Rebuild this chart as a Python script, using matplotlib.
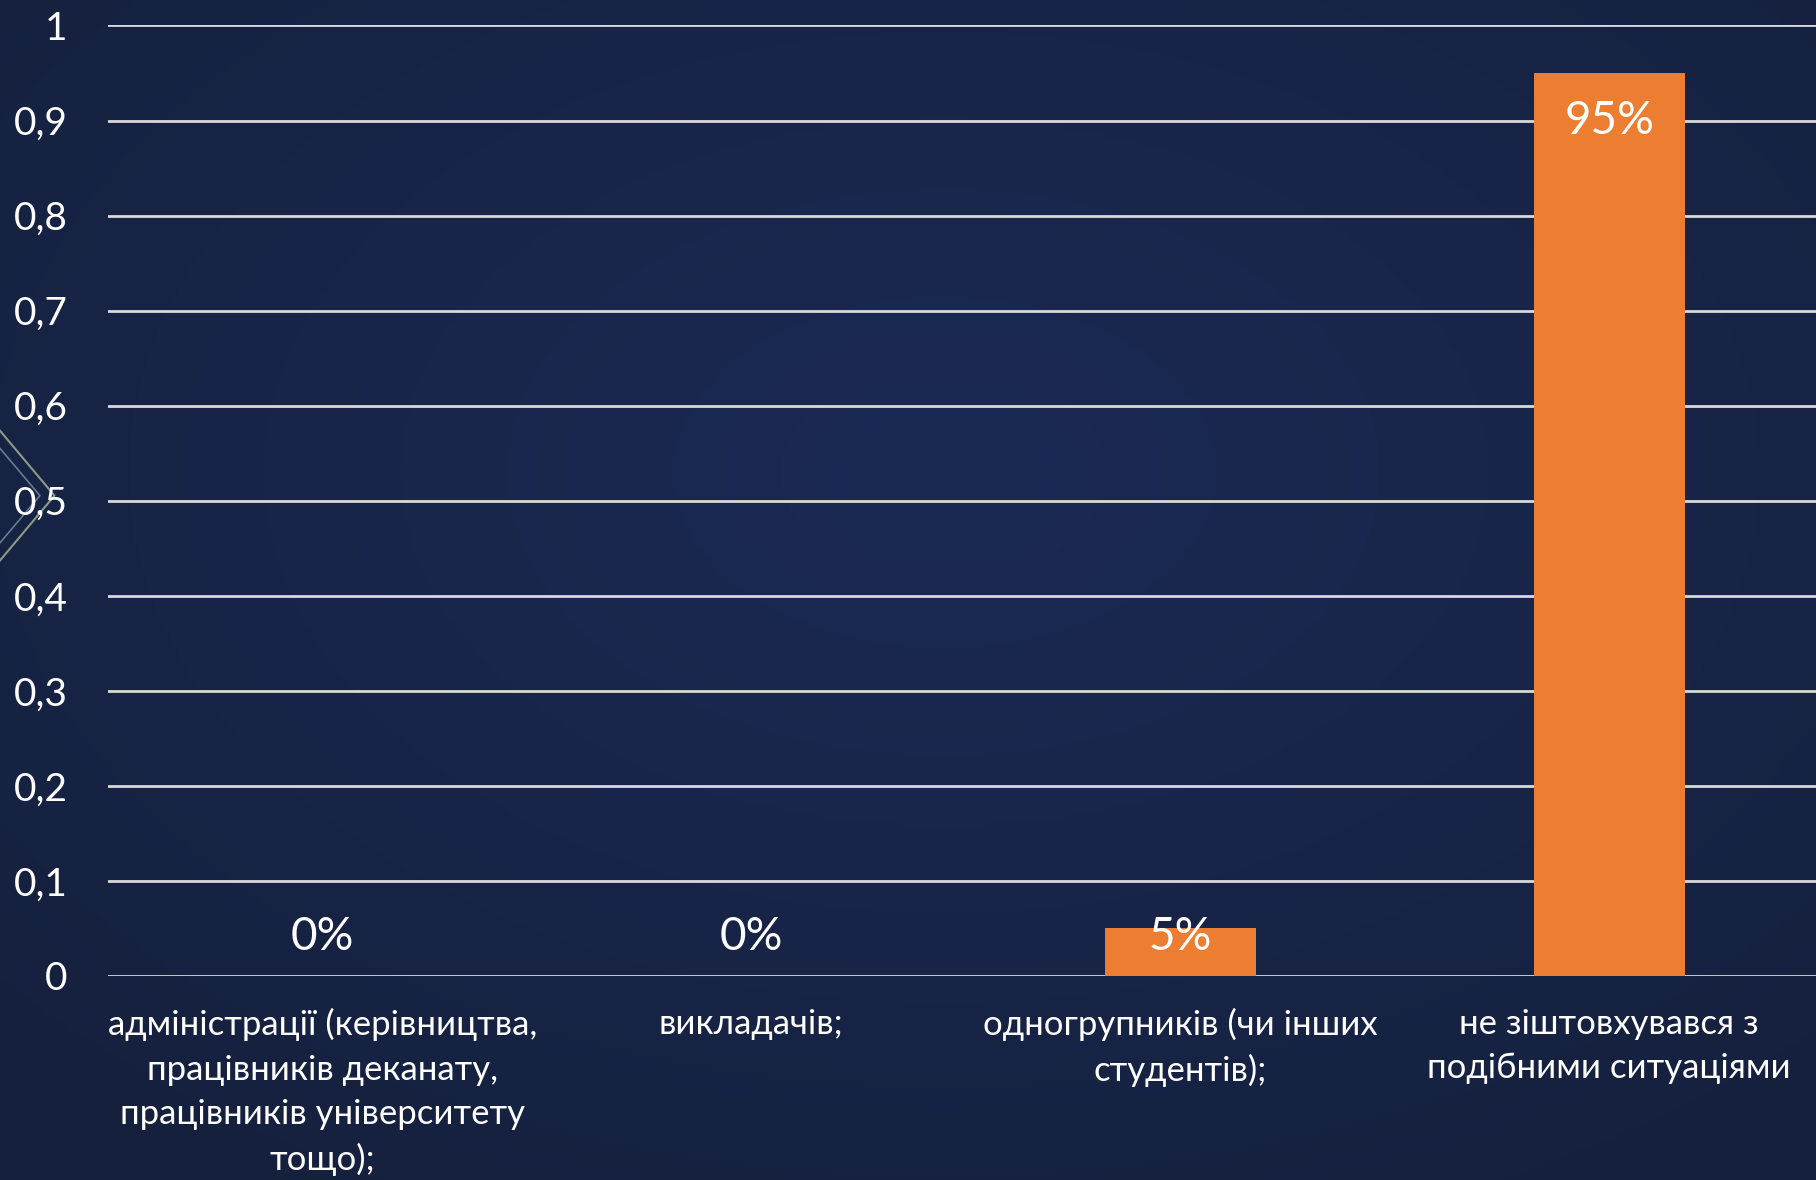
import matplotlib.pyplot as plt
import numpy as np

categories = ['адміністрації (керівництва,\nпрацівників деканату,\nпрацівників університету\nтощо);',
              'викладачів;',
              'одногрупників (чи інших\nстудентів);',
              'не зіштовхувався з\nподібними ситуаціями']
values = [0.0, 0.0, 0.05, 0.95]
labels = ['0%', '0%', '5%', '95%']
yticks = [0, 0.1, 0.2, 0.3, 0.4, 0.5, 0.6, 0.7, 0.8, 0.9, 1.0]

plt.rcParams['font.family'] = ['Lato', 'DejaVu Sans']

fig = plt.figure(figsize=(18.16, 11.8), dpi=100)

# background: dark navy with a lighter centre
bg = fig.add_axes([0, 0, 1, 1], zorder=0)
yy, xx = np.mgrid[0:1:300j, 0:1:460j]
r = np.sqrt(((xx - 0.52) / 0.75) ** 2 + ((yy - 0.6) / 0.75) ** 2)
t = np.clip(1 - r, 0, 1)
edge = np.array([0x15, 0x20, 0x3c]) / 255
centre = np.array([0x1b, 0x2a, 0x55]) / 255
img = edge + (centre - edge) * t[..., None]
bg.imshow(img, extent=[0, 1, 0, 1], aspect='auto', origin='lower')
# decorative chevron on the left
bg.plot([0, 0.03, 0], [0.635, 0.58, 0.525], color='#8c9a86', lw=1.5)
bg.plot([0, 0.022, 0], [0.62, 0.58, 0.54], color='#6c7a90', lw=1.2)
bg.set_xlim(0, 1)
bg.set_ylim(0, 1)
bg.axis('off')

ax = fig.add_axes([0.0593, 0.1729, 0.945, 0.8055], zorder=1)
ax.patch.set_alpha(0)
x = np.arange(len(categories))
ax.bar(x, values, width=0.353, color='#ED7D31', zorder=3)

for i, v in enumerate(values):
    ypos = max(v - 0.051, 0.041)
    ax.text(x[i], ypos, labels[i], ha='center', va='center', color='white',
            fontsize=33, zorder=4)

ax.set_xlim(-0.5, 3.5)
ax.set_ylim(0, 1)
ax.set_yticks(yticks)
ax.set_yticklabels([('%g' % v).replace('.', ',') for v in yticks])
ax.set_xticks(x)
ax.set_xticklabels(categories, linespacing=1.48)
ax.tick_params(axis='y', length=0, labelsize=28, labelcolor='white', pad=29)
ax.tick_params(axis='x', length=0, labelsize=25, labelcolor='white', pad=23)
for lbl in ax.get_xticklabels():
    lbl.set_va('top')
ax.grid(axis='y', color='#d9d9d9', linewidth=2, zorder=1)
for s in ax.spines.values():
    s.set_visible(False)

fig.savefig('out.png', dpi=100)
